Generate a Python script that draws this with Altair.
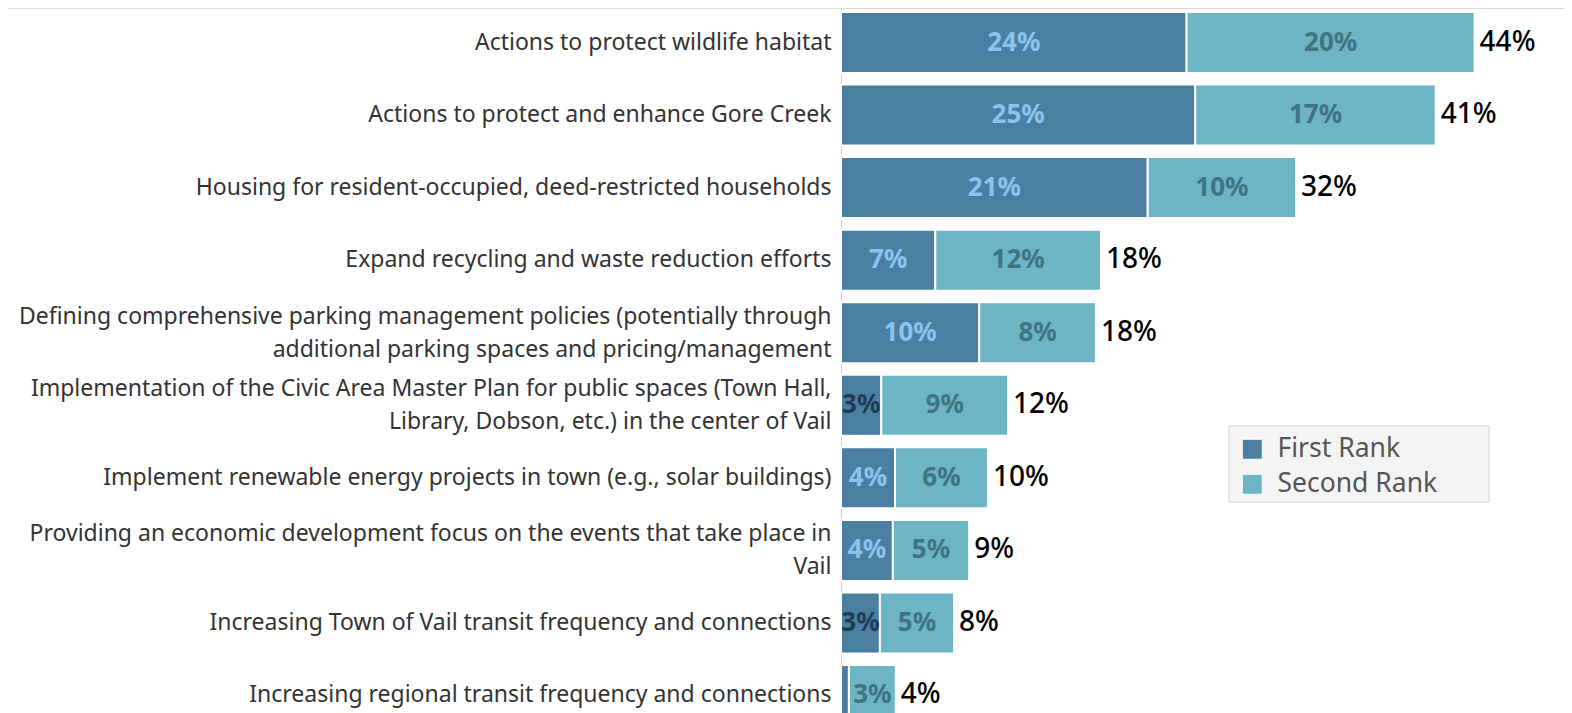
import altair as alt
import pandas as pd

categories = [
    "Actions to protect wildlife habitat",
    "Actions to protect and enhance Gore Creek",
    "Housing for resident-occupied, deed-restricted households",
    "Expand recycling and waste reduction efforts",
    "Defining comprehensive parking management policies (potentially through|additional parking spaces and pricing/management",
    "Implementation of the Civic Area Master Plan for public spaces (Town Hall,|Library, Dobson, etc.) in the center of Vail",
    "Implement renewable energy projects in town (e.g., solar buildings)",
    "Providing an economic development focus on the events that take place in|Vail",
    "Increasing Town of Vail transit frequency and connections",
    "Increasing regional transit frequency and connections",
]
first_rank = [24.0, 24.6, 21.3, 6.55, 9.6, 2.8, 3.75, 3.6, 2.7, 0.55]
second_rank = [20.0, 16.7, 10.3, 11.5, 8.1, 8.8, 6.45, 5.3, 5.15, 3.25]
series = ["First Rank", "Second Rank"]
colors = ["#4b7fa2", "#6db5c4"]

rows = []
for c, f, s in zip(categories, first_rank, second_rank):
    rows.append({"cat": c, "rank": series[0], "order": 0, "value": f})
    rows.append({"cat": c, "rank": series[1], "order": 1, "value": s})
df = pd.DataFrame(rows)

FONT = "Noto Sans"
PX_PER_PCT = 14.4
W = 723
H = 722

base = alt.Chart(df).transform_stack(
    stack="value", groupby=["cat"], as_=["x0", "x1"], sort=[alt.SortField("order")]
).transform_calculate(
    xm="(datum.x0 + datum.x1) / 2", frac="datum.value / 100"
)

xscale = alt.Scale(domain=[0, W / PX_PER_PCT], nice=False, zero=True)
yscale = alt.Scale(paddingInner=0.159, paddingOuter=0.055)

y_enc = alt.Y(
    "cat:N",
    sort=categories,
    scale=yscale,
    title=None,
    axis=alt.Axis(
        labelExpr="split(datum.label, '|')",
        labelFont=FONT,
        labelFontSize=23,
        labelColor="#333333",
        labelLimit=900,
        labelPadding=10,
        labelLineHeight=33,
        labelOffset=alt.condition("indexof(datum.value, '|') >= 0", alt.value(-16), alt.value(0)),
        ticks=False,
        domainColor="#d0d0d0",
        domainWidth=1,
        grid=False,
    ),
)

legend_box = alt.Chart(pd.DataFrame({"a": [0]})).mark_rect(
    fill="#f4f4f4", stroke="#e0e0e0", strokeWidth=1.5
).encode(
    x=alt.value(388), x2=alt.value(648), y=alt.value(418), y2=alt.value(494)
)

bars = base.mark_bar(stroke="white", strokeWidth=2, clip=True).encode(
    x=alt.X("x0:Q", scale=xscale, axis=None, title=None),
    x2="x1:Q",
    y=y_enc,
    color=alt.Color(
        "rank:N",
        scale=alt.Scale(domain=series, range=colors),
        legend=alt.Legend(
            title=None,
            orient="none",
            legendX=388,
            legendY=418,
            padding=10,
            labelFont=FONT,
            labelFontSize=26.5,
            labelColor="#555555",
            symbolType="square",
            symbolSize=400,
            symbolStrokeColor="white",
            symbolStrokeWidth=1,
            symbolOpacity=1,
            rowPadding=8,
            labelOffset=12,
        ),
    ),
)

labels = base.transform_filter("datum.value >= 1").transform_calculate(
    lc="datum.rank == 'Second Rank' ? '#3f7480' : (datum.value < 3.5 ? '#1d3c55' : '#8cc3ec')"
).mark_text(
    font=FONT, fontSize=26, fontWeight="bold", align="center", baseline="middle"
).encode(
    x=alt.X("xm:Q", scale=xscale),
    y=alt.Y("cat:N", sort=categories),
    text=alt.Text("frac:Q", format=".0%"),
    color=alt.Color("lc:N", scale=None),
)

totals = base.transform_aggregate(
    total="sum(value)", groupby=["cat"]
).transform_calculate(tfrac="datum.total / 100").mark_text(
    font=FONT, fontSize=28, fontWeight=500, align="left", baseline="middle", dx=5, color="black"
).encode(
    x=alt.X("total:Q", scale=xscale),
    y=alt.Y("cat:N", sort=categories),
    text=alt.Text("tfrac:Q", format=".0%"),
)

topline = alt.Chart(pd.DataFrame({"a": [0]})).mark_rule(color="#d6d6d6", strokeWidth=1.5).encode(
    x=alt.value(-833), x2=alt.value(W), y=alt.value(0)
)

chart = alt.layer(legend_box, bars, labels, totals, topline).properties(
    width=W,
    height=H,
    autosize=alt.AutoSizeParams(type="none"),
    padding={"left": 833, "top": 0, "right": 0, "bottom": 0},
).configure_view(stroke=None).configure(font=FONT)

chart.save("out.html", embed_options={"renderer": "svg", "actions": False})
